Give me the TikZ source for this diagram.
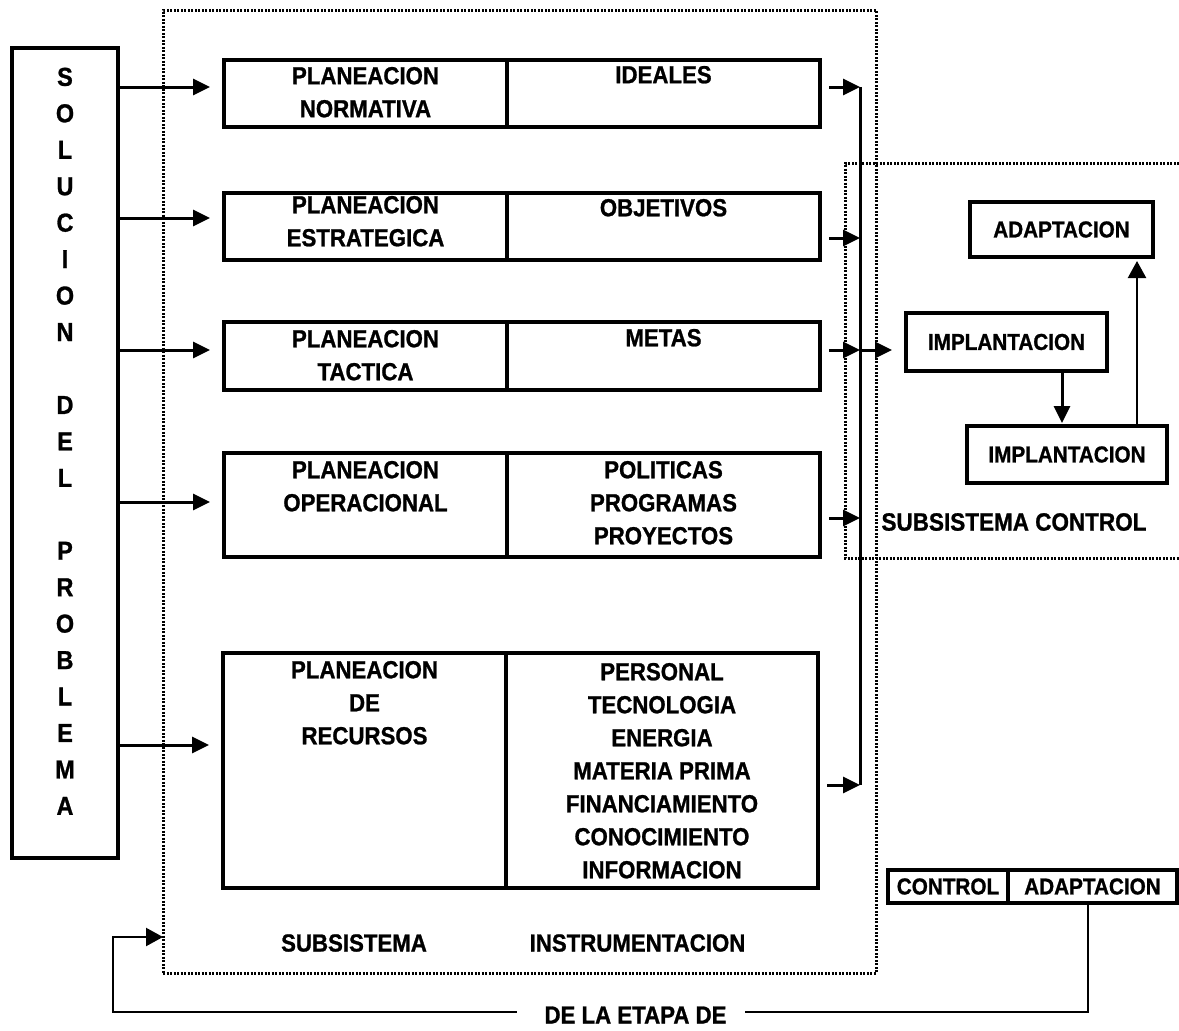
\documentclass[tikz,border=0pt]{standalone}
\usepackage{fontspec}
\setmainfont{Liberation Sans}[FakeStretch=0.9, BoldFeatures={FakeBold=1}]
\usetikzlibrary{arrows.meta,calc}
\begin{document}
\begin{tikzpicture}[x=1pt,y=-1pt,
  cell/.style={draw, line width=3.2pt, inner sep=0pt, outer sep=0pt, anchor=north west},
  txt/.style={font=\fontsize{24.7}{33}\selectfont\bfseries, align=center, inner sep=0pt, outer sep=0pt},
  smalltxt/.style={font=\fontsize{23}{28}\selectfont\bfseries},
  conn/.style={line width=3pt},
  arr/.style={line width=3pt, -{Triangle[length=17pt,width=16pt]}},
  fbline/.style={line width=2.3pt},
  fbarr/.style={line width=2.3pt, -{Triangle[length=17pt,width=18pt]}},
  dotline/.style={line width=3pt, dash pattern=on 2pt off 1.5pt},
  dotbox/.style={draw, line width=3pt, dash pattern=on 2pt off 1.5pt, inner sep=0pt, outer sep=0pt, anchor=north west},
]
\useasboundingbox[fill=white] (0,0) rectangle (1179,1031);

% outer dotted frame (instrumentation subsystem)
\node[dotbox, minimum width=713pt, minimum height=963pt] (instr) at (163,10) {};
% dotted frame of the control subsystem (open to the right)
\draw[dotline] (1179,163) -- (845,163) -- (845,558) -- (1179,558);

% left column
\node[cell, minimum width=106pt, minimum height=810pt] (sol) at (12,48) {};
\node[font=\fontsize{26}{36.45}\selectfont\bfseries, align=center, inner sep=0pt, anchor=north] (soltxt) at (65,67.5)
  {S\\O\\L\\U\\C\\I\\O\\N\\[36.45pt]D\\E\\L\\[36.45pt]P\\R\\O\\B\\L\\E\\M\\A};

% planning boxes
\node[cell, minimum width=283pt, minimum height=67pt] (b1l) at (224,60) {};
\node[cell, minimum width=313pt, minimum height=67pt] (b1r) at (507,60) {};
\node[cell, minimum width=283pt, minimum height=67pt] (b2l) at (224,193) {};
\node[cell, minimum width=313pt, minimum height=67pt] (b2r) at (507,193) {};
\node[cell, minimum width=283pt, minimum height=68pt] (b3l) at (224,322) {};
\node[cell, minimum width=313pt, minimum height=68pt] (b3r) at (507,322) {};
\node[cell, minimum width=283pt, minimum height=104pt] (b4l) at (224,453) {};
\node[cell, minimum width=313pt, minimum height=104pt] (b4r) at (507,453) {};
\node[cell, minimum width=283pt, minimum height=235pt] (b5l) at (223,653) {};
\node[cell, minimum width=312pt, minimum height=235pt] (b5r) at (506,653) {};

\node[txt, anchor=north] (t1l) at ([yshift=-7pt]b1l.north) {PLANEACION\\NORMATIVA};
\node[txt, anchor=north] (t1r) at ([yshift=-6pt]b1r.north) {IDEALES};
\node[txt, anchor=north] (t2l) at ([yshift=-3pt]b2l.north) {PLANEACION\\ESTRATEGICA};
\node[txt, anchor=north] (t2r) at ([yshift=-6pt]b2r.north) {OBJETIVOS};
\node[txt, anchor=north] (t3l) at ([yshift=-8pt]b3l.north) {PLANEACION\\TACTICA};
\node[txt, anchor=north] (t3r) at ([yshift=-7pt]b3r.north) {METAS};
\node[txt, anchor=north] (t4l) at ([yshift=-8pt]b4l.north) {PLANEACION\\OPERACIONAL};
\node[txt, anchor=north] (t4r) at ([yshift=-8pt]b4r.north) {POLITICAS\\PROGRAMAS\\PROYECTOS};
\node[txt, anchor=north] (t5l) at ([yshift=-8pt]b5l.north) {PLANEACION\\DE\\RECURSOS};
\node[txt, anchor=north] (t5r) at ([yshift=-10pt]b5r.north)
  {PERSONAL\\TECNOLOGIA\\ENERGIA\\MATERIA PRIMA\\FINANCIAMIENTO\\CONOCIMIENTO\\INFORMACION};

% control subsystem boxes
\node[cell, smalltxt, minimum width=183pt, minimum height=55pt] (adapt) at (970,202) {ADAPTACION};
\node[cell, smalltxt, minimum width=201pt, minimum height=58pt] (impl1) at (906,313) {IMPLANTACION};
\node[cell, smalltxt, minimum width=200pt, minimum height=57pt] (impl2) at (967,426) {IMPLANTACION};
\node[txt, font=\fontsize{25}{30}\selectfont\bfseries] (subctl) at (1014,522) {SUBSISTEMA CONTROL};

% control | adaptacion box
\node[cell, smalltxt, minimum width=120pt, minimum height=33pt] (ctl) at (888,870) {CONTROL};
\node[cell, smalltxt, minimum width=169pt, minimum height=33pt] (adp) at (1008,870) {ADAPTACION};

% bottom labels
\node[txt] (subins) at (354,943) {SUBSISTEMA};
\node[txt] (instrtxt) at (637.5,943) {INSTRUMENTACION};
\node[txt] (etapa) at (635.5,1015) {DE LA ETAPA DE};

% arrows from the problem solution to the planning boxes
\coordinate (l1) at ($(b1l.west)+(0,-6.5)$);
\coordinate (l2) at ($(b2l.west)+(0,-8.5)$);
\coordinate (l3) at ($(b3l.west)+(0,-6)$);
\coordinate (l4) at ($(b4l.west)+(0,-3)$);
\coordinate (l5) at ($(b5l.west)+(0,-25.5)$);
\foreach \c in {l1,l2,l3,l4,l5}
  \draw[arr, shorten >=14pt] (\c -| sol.east) -- (\c);

% bus collecting the planning outputs
\coordinate (bustop) at (860,87);
\coordinate (busbot) at (860,785);
\draw[conn] (bustop) -- (busbot);
\coordinate (r1) at ($(b1r.east)+(0,-6.5)$);
\coordinate (r2) at ($(b2r.east)+(0,11.5)$);
\coordinate (r3) at ($(b3r.east)+(0,-6)$);
\coordinate (r4) at ($(b4r.east)+(0,13)$);
\coordinate (r5) at ($(b5r.east)+(0,14.5)$);
\foreach \c in {r1,r2,r3,r4,r5}
  \draw[arr, shorten <=9pt] (\c) -- (\c -| bustop);
\draw[arr, shorten >=14pt] (r3 -| bustop) -- (r3 -| impl1.west);

% control subsystem flow
\coordinate (i1) at ($(impl1.south)+(55.5,0)$);
\draw[arr, shorten >=3pt] (i1) -- (i1 |- impl2.north);
\coordinate (i2) at ($(impl2.north)+(70,0)$);
\draw[fbarr, shorten >=4pt] (i2) -- (i2 |- adapt.south);

% feedback loop
\coordinate (fb0) at ($(adp.south)+(-4.5,0)$);
\coordinate (fbR) at ($(fb0)+(0,109)$);
\coordinate (fbL) at (113,1012);
\coordinate (fbU) at (113,937);
\draw[fbline] (fb0) -- (fbR) -- ([xshift=19pt]etapa.east |- fbR);
\draw[fbarr] ([xshift=-28pt]etapa.west |- fbL) -- (fbL) -- (fbU) -- (fbU -| instr.west);
\end{tikzpicture}
\end{document}
